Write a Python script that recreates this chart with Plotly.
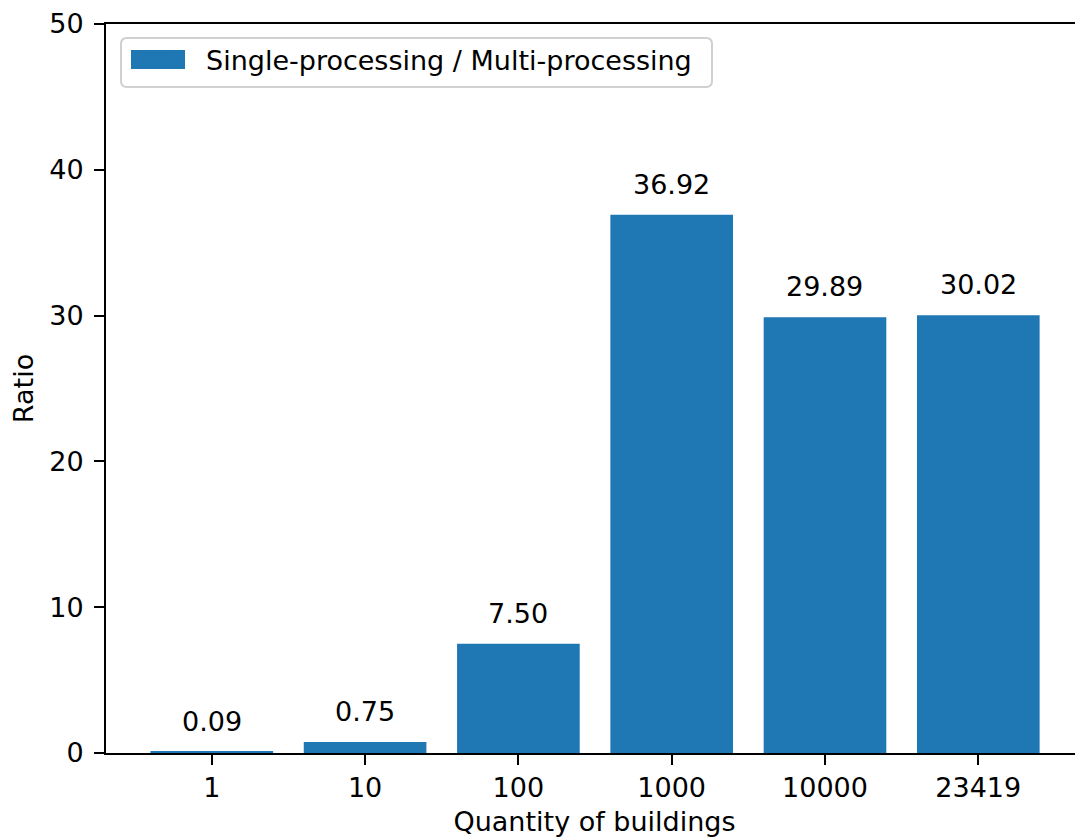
import plotly.graph_objects as go

# ---- data ----
buildings = ["1", "10", "100", "1000", "10000", "23419"]
ratios = [0.09, 0.75, 7.50, 36.92, 29.89, 30.02]
series_name = "Single-processing / Multi-processing"
y_ticks = [0, 10, 20, 30, 40, 50]

# ---- layout constants (page pixels) ----
OFF = 8                       # default body margin of the html page
PAGE_W, PAGE_H = 1083, 837
W, H = PAGE_W - OFF, PAGE_H - OFF
PL, PT, PB = 106, 24, 753     # plot area edges in page pixels
L, T, B, R = PL - OFF, PT - OFF, PAGE_H - PB, 0
PW, PH = W - L - R, H - T - B
FONT = "DejaVu Sans"
FS = 27
BLUE = "#1f77b4"
TXT = "#000"

def px2paper(px, py):
    # page pixel -> paper coordinates
    return (px - PL) / PW, (PB - py) / PH

fig = go.Figure()
fig.add_trace(go.Bar(
    x=buildings, y=ratios, width=0.8, name=series_name,
    marker=dict(color=BLUE, line=dict(width=0)),
    showlegend=True,
))

# value labels
for i, v in enumerate(ratios):
    fig.add_annotation(x=i, y=v, text=f"{v:.2f}", showarrow=False,
                       xref="x", yref="y", yanchor="bottom", yshift=13,
                       font=dict(family=FONT, size=FS, color=TXT))

# legend frame (rounded) and patch
def rounded_rect(x0, y0, x1, y1, r):
    def P(px, py):
        a, b = px2paper(px, py)
        return f"{a:.5f},{b:.5f}"
    return (f"M {P(x0 + r, y0)} L {P(x1 - r, y0)} Q {P(x1, y0)} {P(x1, y0 + r)} "
            f"L {P(x1, y1 - r)} Q {P(x1, y1)} {P(x1 - r, y1)} "
            f"L {P(x0 + r, y1)} Q {P(x0, y1)} {P(x0, y1 - r)} "
            f"L {P(x0, y0 + r)} Q {P(x0, y0)} {P(x0 + r, y0)} Z")

fig.add_shape(type="path", xref="paper", yref="paper",
              path=rounded_rect(121, 38, 712, 87, 6),
              line=dict(color="#d0d0d0", width=2), fillcolor="rgba(255,255,255,0.8)",
              layer="above")
px0, py0 = px2paper(131, 50)
px1, py1 = px2paper(185, 69)
fig.add_shape(type="rect", xref="paper", yref="paper",
              x0=px0, y0=py1, x1=px1, y1=py0,
              line=dict(width=0), fillcolor=BLUE, layer="above")

lx, ly = px2paper(106, 60)
fig.update_layout(
    width=W, height=H,
    margin=dict(l=L, r=R, t=T, b=B, pad=0, autoexpand=False),
    paper_bgcolor="white", plot_bgcolor="white",
    font=dict(family=FONT, size=FS, color=TXT),
    showlegend=True,
    legend=dict(x=lx, y=ly, xanchor="left", yanchor="middle",
                itemwidth=90,
                bgcolor="rgba(0,0,0,0)", borderwidth=0,
                font=dict(family=FONT, size=FS, color=TXT)),
    xaxis=dict(
        type="category", range=[-0.69, 5.683], automargin=False,
        showline=True, linecolor="#000", linewidth=2, mirror=True,
        ticks="outside", ticklen=10, tickwidth=2, tickcolor="#000",
        showgrid=False, zeroline=False,
        title=dict(text="Quantity of buildings", standoff=12,
                   font=dict(family=FONT, size=FS, color=TXT)),
        tickfont=dict(family=FONT, size=FS, color=TXT),
    ),
    yaxis=dict(
        range=[0, 50], tickvals=y_ticks, automargin=False,
        showline=True, linecolor="#000", linewidth=2,
        ticks="outside", ticklen=10, tickwidth=2, tickcolor="#000",
        ticklabelstandoff=5,
        showgrid=False, zeroline=False,
        title=dict(text="Ratio", standoff=8,
                   font=dict(family=FONT, size=FS, color=TXT)),
        tickfont=dict(family=FONT, size=FS, color=TXT),
    ),
    bargap=0.2,
)

fig.write_html("out.html")
